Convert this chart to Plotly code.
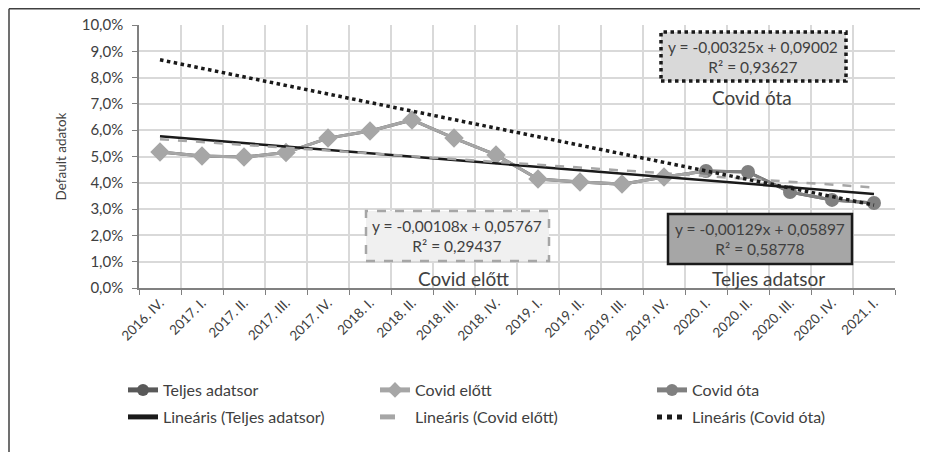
import numpy as np
import plotly.graph_objects as go

quarters = ["2016. IV.", "2017. I.", "2017. II.", "2017. III.", "2017. IV.",
            "2018. I.", "2018. II.", "2018. III.", "2018. IV.",
            "2019. I.", "2019. II.", "2019. III.", "2019. IV.",
            "2020. I.", "2020. II.", "2020. III.", "2020. IV.", "2021. I."]

# default rate (fraction) per quarter
teljes = [0.0517, 0.0502, 0.0498, 0.0515, 0.0570, 0.0597, 0.0639, 0.0570, 0.0506,
          0.0414, 0.0403, 0.0395, 0.0422, 0.0445, 0.0441, 0.0365, 0.0335, 0.0323]
covid_elott = teljes[:13]
covid_ota = teljes[13:]

# Excel trendline coefficients (x = 1..18): slope, intercept, R²
trend_teljes = (-0.00129, 0.05897, 0.58778)
trend_elott = (-0.00108, 0.05767, 0.29437)
trend_ota = (-0.00325, 0.09002, 0.93627)

idx = np.arange(1, len(quarters) + 1)

# page has an 8px body margin, so work in screen pixels and shift
OFF = 8
W, H = 928 - OFF, 452 - OFF
L, T = 139 - OFF, 25 - OFF
PW, PH = 756, 263
R, B = W - L - PW, H - T - PH


def px(x):
    return (x - OFF - L) / PW


def py(y):
    return (T + PH - (y - OFF)) / PH


def eq(c):
    s = f"y = {c[0]:.5f}x + {c[1]:.5f}<br>R² = {c[2]:.5f}"
    return s.replace(".", ",")


FONT = "Lato, 'Open Sans', sans-serif"
TXT = "#404040"

fig = go.Figure()
fig.add_trace(go.Scatter(x=quarters, y=teljes, name="Teljes adatsor", mode="lines+markers",
                         line=dict(color="#595959", width=3), legend="legend",
                         marker=dict(symbol="circle", size=8, color="#595959")))
# joining segment of the full series, shown in light grey as in the source
fig.add_trace(go.Scatter(x=quarters[12:14], y=teljes[12:14], mode="lines", showlegend=False,
                         line=dict(color="#a6a6a6", width=3), hoverinfo="skip"))
fig.add_trace(go.Scatter(x=quarters[:13], y=covid_elott, name="Covid előtt", mode="lines+markers",
                         line=dict(color="#a6a6a6", width=3), legend="legend2",
                         marker=dict(symbol="diamond", size=15, color="#a6a6a6")))
fig.add_trace(go.Scatter(x=quarters[13:], y=covid_ota, name="Covid óta", mode="lines+markers",
                         line=dict(color="#808080", width=3), legend="legend3",
                         marker=dict(symbol="circle", size=14, color="#808080")))
fig.add_trace(go.Scatter(x=quarters, y=trend_teljes[0] * idx + trend_teljes[1],
                         name="Lineáris (Teljes adatsor)", mode="lines", legend="legend4",
                         line=dict(color="#1a1a1a", width=2.5)))
fig.add_trace(go.Scatter(x=quarters, y=trend_elott[0] * idx + trend_elott[1],
                         name="Lineáris (Covid előtt)", mode="lines", legend="legend5",
                         line=dict(color="#a6a6a6", width=2.5, dash="dash")))
fig.add_trace(go.Scatter(x=quarters, y=trend_ota[0] * idx + trend_ota[1],
                         name="Lineáris (Covid óta)", mode="lines", legend="legend6",
                         line=dict(color="#1a1a1a", width=3.5, dash="dot")))

# equation boxes
boxes = [
    (661, 846, 32, 81, "#d9d9d9", "#1a1a1a", "dot", 3.5),
    (366, 549, 211, 261, "#f0f0f0", "#a6a6a6", "dash", 2.5),
    (668, 852, 214, 264, "#a6a6a6", "#1a1a1a", "solid", 2.5),
]
for x0, x1, y0, y1, fill, border, dash, w in boxes:
    fig.add_shape(type="rect", xref="paper", yref="paper",
                  x0=px(x0), x1=px(x1), y0=py(y1), y1=py(y0),
                  fillcolor=fill, line=dict(color=border, width=w, dash=dash), layer="above")

for (cx, cy), c in [((753, 57), trend_ota), ((457, 236), trend_elott), ((760, 239), trend_teljes)]:
    fig.add_annotation(xref="paper", yref="paper", x=px(cx), y=py(cy), text=eq(c),
                       xanchor="center", yanchor="middle", showarrow=False,
                       font=dict(family=FONT, size=15.5, color=TXT))

for (cx, cy), t in [((752, 97), "Covid óta"), ((463, 278), "Covid előtt"), ((768, 278), "Teljes adatsor")]:
    fig.add_annotation(xref="paper", yref="paper", x=px(cx), y=py(cy), text=t,
                       xanchor="center", yanchor="middle", showarrow=False,
                       font=dict(family=FONT, size=19, color=TXT))

# outer chart frame (cropped: top and left edges visible)
fig.add_shape(type="line", xref="paper", yref="paper", x0=px(9), x1=px(940), y0=py(8.8), y1=py(8.8),
              line=dict(color="#404040", width=1.5))
fig.add_shape(type="line", xref="paper", yref="paper", x0=px(9), x1=px(9), y0=py(8.8), y1=py(460),
              line=dict(color="#404040", width=1.5))

leg_font = dict(family=FONT, size=16, color=TXT)
legends = {}
for i, (tx, ty) in enumerate([(163, 391), (415, 391), (692, 391),
                              (163, 418), (415, 418), (692, 418)]):
    key = "legend" if i == 0 else f"legend{i + 1}"
    legends[key] = dict(x=px(tx - 40), y=py(ty - 18), xanchor="left", yanchor="top",
                        orientation="h", itemsizing="constant", font=leg_font,
                        bgcolor="rgba(0,0,0,0)")

fig.update_layout(
    width=W, height=H,
    margin=dict(l=L, r=R, t=T, b=B, autoexpand=False),
    paper_bgcolor="#ffffff", plot_bgcolor="#ffffff",
    separators=", ",
    font=dict(family=FONT, color=TXT, size=13),
    showlegend=True,
    **legends,
)
fig.update_xaxes(type="category", range=[-0.5, 17.5], tickangle=-45, tickson="boundaries",
                 ticks="outside", ticklen=5, tickcolor="#808080", automargin=False,
                 showgrid=True, gridcolor="#d9d9d9", gridwidth=1.5,
                 showline=True, linecolor="#808080", linewidth=1.5,
                 tickfont=dict(family=FONT, size=13.5, color=TXT))
fig.update_yaxes(range=[0, 0.1], dtick=0.01, tickformat=".1%", automargin=False,
                 ticks="outside", ticklen=5, tickcolor="#808080", ticklabelstandoff=6,
                 showgrid=True, gridcolor="#d9d9d9", gridwidth=1.5,
                 showline=True, linecolor="#808080", linewidth=1.5, zeroline=False,
                 title=dict(text="Default adatok", font=dict(family=FONT, size=13.5, color=TXT),
                            standoff=12),
                 tickfont=dict(family=FONT, size=15, color=TXT))

fig.write_html("out.html")
